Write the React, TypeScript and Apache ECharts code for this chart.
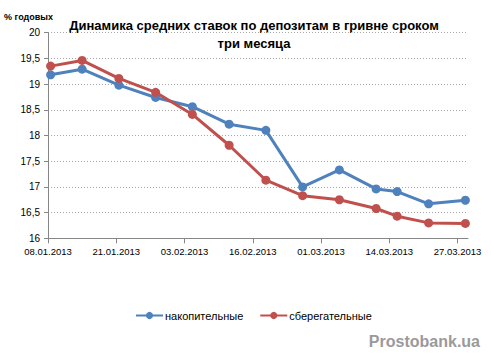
import React, { useEffect, useRef } from "react";
import * as echarts from "echarts";

const dates = [
  "08.01.2013", "14.01.2013", "21.01.2013", "28.01.2013", "04.02.2013",
  "11.02.2013", "18.02.2013", "25.02.2013", "04.03.2013", "11.03.2013",
  "15.03.2013", "21.03.2013", "28.03.2013",
];
const nakopitelnye = [19.18, 19.29, 18.98, 18.74, 18.56, 18.22, 18.1, 17.0, 17.33, 16.96, 16.91, 16.67, 16.74];
const sberegatelnye = [19.35, 19.46, 19.11, 18.84, 18.41, 17.81, 17.13, 16.83, 16.75, 16.58, 16.43, 16.3, 16.29];
const tickDates = ["08.01.2013", "21.01.2013", "03.02.2013", "16.02.2013", "01.03.2013", "14.03.2013", "27.03.2013"];
const seriesNames = ["накопительные", "сберегательные"];
const titleLines = ["Динамика средних ставок по депозитам в гривне сроком", "три месяца"];
const startDate = "08.01.2013";
const endDate = "28.03.2013";

const DAY = 86400000;
const toUTC = (s: string) => {
  const [d, m, y] = s.split(".").map(Number);
  return Date.UTC(y, m - 1, d);
};
const base = toUTC(startDate);
const dayOf = (s: string) => (toUTC(s) - base) / DAY;
const fmt = (v: number) => {
  const dt = new Date(base + Math.round(v) * DAY);
  const dd = String(dt.getUTCDate()).padStart(2, "0");
  const mm = String(dt.getUTCMonth() + 1).padStart(2, "0");
  return `${dd}.${mm}.${dt.getUTCFullYear()}`;
};

export default function App() {
  const ref = useRef<HTMLDivElement>(null);
  useEffect(() => {
    document.body.style.margin = "0";
    const chart = echarts.init(ref.current!, null, { renderer: "svg" });
    const font = "'Liberation Sans', Arial, sans-serif";
    const mk = (vals: number[]) => vals.map((v, i) => [dayOf(dates[i]) + 0.5, v]);
    const ticks = tickDates.map(dayOf);
    chart.setOption({
      animation: false,
      backgroundColor: "#ffffff",
      textStyle: { fontFamily: font },
      grid: { left: 48, top: 32.7, right: 23, bottom: 125.7, containLabel: false },
      graphic: [
        ...titleLines.map((t, i) => ({
          type: "text",
          x: 254,
          y: 25 + i * 18,
          style: {
            text: t,
            font: `bold 13px ${font}`,
            fill: "#000",
            align: "center",
            verticalAlign: "middle",
          },
        })),
        {
          type: "text",
          x: 4,
          y: 17,
          style: { text: "% годовых", font: `bold 9px ${font}`, fill: "#000", verticalAlign: "middle" },
        },
        {
          type: "text",
          x: 480,
          y: 341,
          style: {
            text: "Prostobank.ua",
            font: `bold 16px ${font}`,
            fill: "#9a9a9a",
            align: "right",
            verticalAlign: "middle",
          },
        },
      ],
      legend: {
        left: 130,
        top: 305,
        itemWidth: 27,
        itemHeight: 9,
        itemGap: 16,
        textStyle: { fontSize: 11, color: "#000", fontFamily: font, padding: [0, 0, 0, -3] },
        data: seriesNames,
      },
      xAxis: {
        type: "value",
        min: 0,
        max: dayOf(endDate) + 1,
        axisLine: { show: true, lineStyle: { color: "#868686", width: 1 } },
        axisTick: { show: true, length: 5, lineStyle: { color: "#868686" }, customValues: ticks },
        axisLabel: {
          customValues: ticks,
          formatter: (v: number) => fmt(v),
          fontSize: 9.5,
          color: "#000",
          margin: 8,
          fontFamily: font,
        },
        splitLine: { show: false },
      },
      yAxis: {
        type: "value",
        min: 16,
        max: 20,
        interval: 0.5,
        axisLine: { show: true, lineStyle: { color: "#868686", width: 1 } },
        axisTick: { show: true, length: 4, lineStyle: { color: "#868686" } },
        axisLabel: {
          formatter: (v: number) => String(v).replace(".", ","),
          fontSize: 10,
          color: "#000",
          margin: 8,
          fontFamily: font,
        },
        splitLine: { show: true, lineStyle: { color: "#a6a6a6", type: [1, 2], width: 1 } },
      },
      series: [
        {
          name: seriesNames[0],
          type: "line",
          data: mk(nakopitelnye),
          color: "#4F81BD",
          lineStyle: { width: 3 },
          symbol: "circle",
          symbolSize: 9,
          itemStyle: { color: "#4F81BD" },
        },
        {
          name: seriesNames[1],
          type: "line",
          data: mk(sberegatelnye),
          color: "#C0504D",
          lineStyle: { width: 3 },
          symbol: "circle",
          symbolSize: 9,
          itemStyle: { color: "#C0504D" },
        },
      ],
    });
    return () => chart.dispose();
  }, []);
  return <div ref={ref} style={{ width: 491, height: 364 }} />;
}
